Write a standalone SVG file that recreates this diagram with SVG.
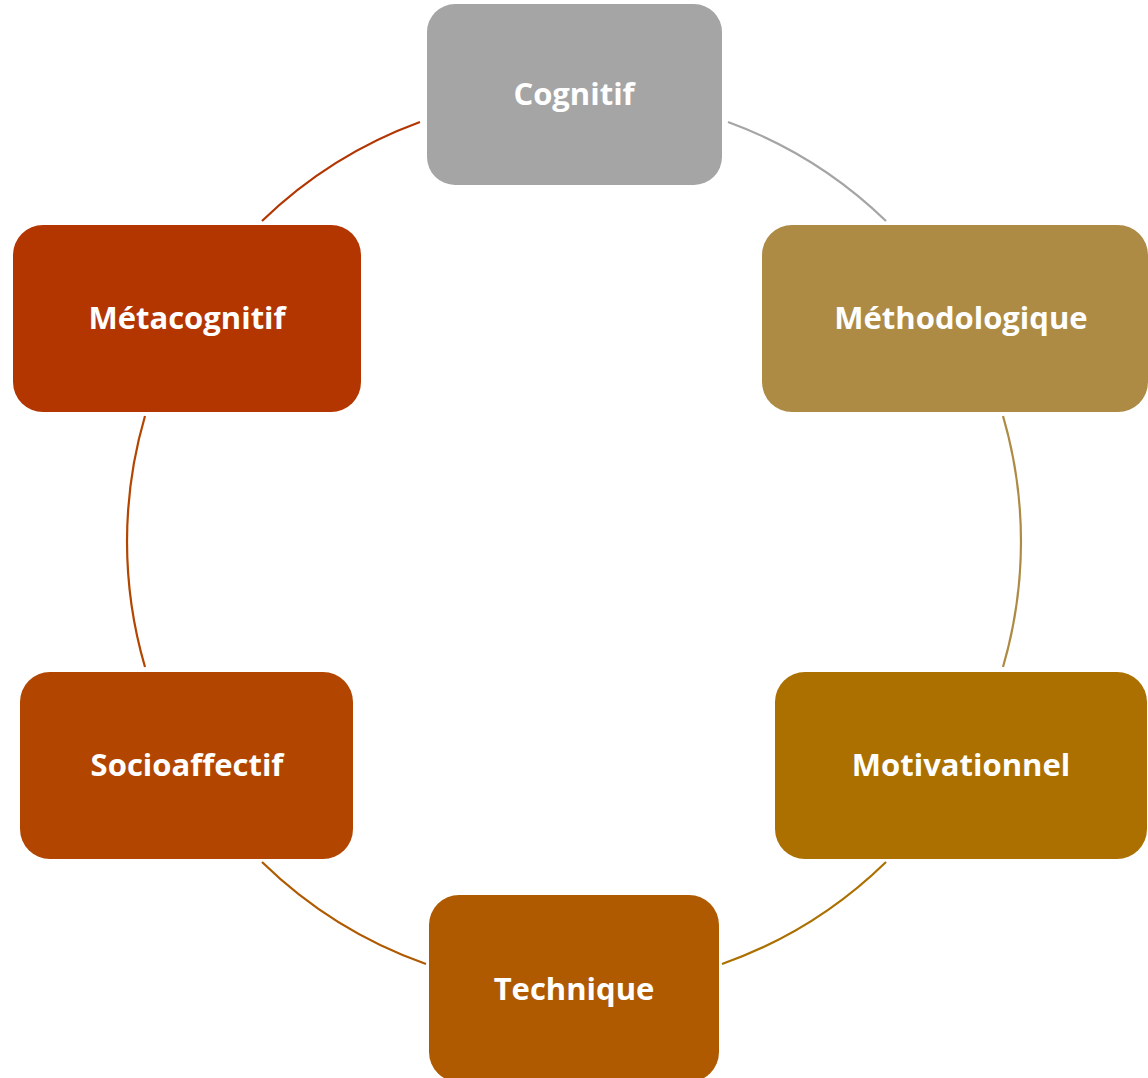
<svg xmlns="http://www.w3.org/2000/svg" width="1148" height="1078" viewBox="0 0 1148 1078">
<style>
.lbl{font-family:"Open Sans","Noto Sans","Liberation Sans",sans-serif;font-weight:bold;font-size:31px;fill:#ffffff;text-anchor:middle}
.arc{fill:none;stroke-width:2.2}
</style>
<rect width="1148" height="1078" fill="#ffffff"/>
<g id="connectors">
<path class="arc" stroke="#A5A5A5" d="M728,122 A447,447 0 0 1 886,221"/>
<path class="arc" stroke="#AE8B45" d="M1003,416 A447,447 0 0 1 1003,667"/>
<path class="arc" stroke="#AB7000" d="M886,862 A447,447 0 0 1 722,964"/>
<path class="arc" stroke="#AF5A00" d="M426,964 A447,447 0 0 1 262,862"/>
<path class="arc" stroke="#B24600" d="M145,667 A447,447 0 0 1 145,416"/>
<path class="arc" stroke="#B33500" d="M262,221 A447,447 0 0 1 420,122"/>
</g>
<g id="cognitif">
<rect x="427" y="4" width="295" height="181" rx="28" fill="#A5A5A5"/>
<text class="lbl" x="574" y="105">Cognitif</text>
</g>
<g id="methodologique">
<rect x="762" y="225" width="386" height="187" rx="30" fill="#AE8B45"/>
<text class="lbl" x="961" y="329">Méthodologique</text>
</g>
<g id="motivationnel">
<rect x="775" y="672" width="372" height="187" rx="30" fill="#AB7000"/>
<text class="lbl" x="961" y="776">Motivationnel</text>
</g>
<g id="technique">
<rect x="429" y="895" width="290" height="187" rx="30" fill="#AF5A00"/>
<text class="lbl" x="574" y="1000">Technique</text>
</g>
<g id="socioaffectif">
<rect x="20" y="672" width="333" height="187" rx="30" fill="#B24600"/>
<text class="lbl" x="187" y="776">Socioaffectif</text>
</g>
<g id="metacognitif">
<rect x="13" y="225" width="348" height="187" rx="30" fill="#B33500"/>
<text class="lbl" x="187" y="329">Métacognitif</text>
</g>
</svg>
